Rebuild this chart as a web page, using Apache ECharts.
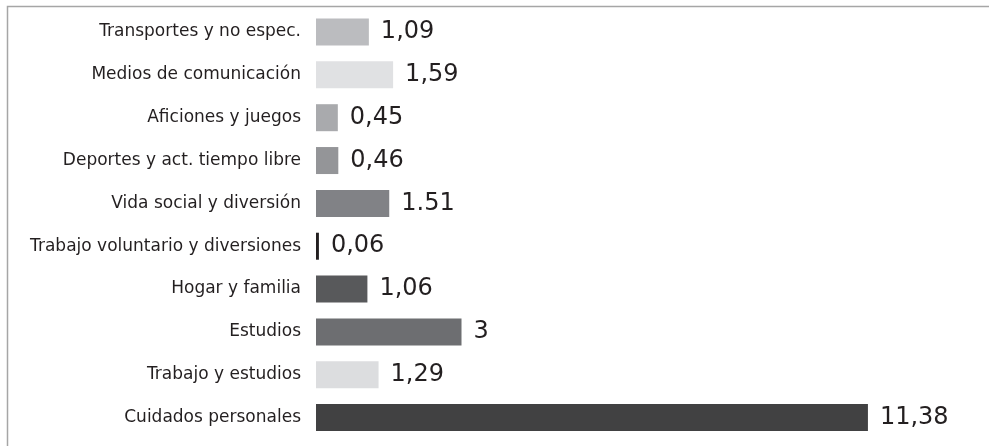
<!DOCTYPE html>
<html>
<head>
<meta charset="utf-8">
<style>
  html, body { margin: 0; padding: 0; background: #ffffff; }
  #chart { width: 989px; height: 446px; }
</style>
<script src="https://cdn.jsdelivr.net/npm/echarts@6/dist/echarts.min.js"></script>
</head>
<body>
<div id="chart"></div>
<script>
// Activity categories, listed top to bottom
const categories = [
  'Transportes y no espec.',
  'Medios de comunicación',
  'Aficiones y juegos',
  'Deportes y act. tiempo libre',
  'Vida social y diversión',
  'Trabajo voluntario y diversiones',
  'Hogar y familia',
  'Estudios',
  'Trabajo y estudios',
  'Cuidados personales'
];

// Hours per activity
const values = [1.09, 1.59, 0.45, 0.46, 1.51, 0.06, 1.06, 3, 1.29, 11.38];

// Value labels as printed next to each bar
const valueLabels = ['1,09', '1,59', '0,45', '0,46', '1.51', '0,06', '1,06', '3', '1,29', '11,38'];

// Fill colour of each bar
const barColors = [
  '#bbbcbf', '#e0e1e3', '#a9aaad', '#949598', '#818286',
  '#231f20', '#58595b', '#6d6e71', '#dcdddf', '#414142'
];

const chart = echarts.init(document.getElementById('chart'), null, { renderer: 'canvas' });

chart.setOption({
  animation: false,
  backgroundColor: '#ffffff',
  grid: { left: 316, right: 91, top: 10.6, bottom: 7, containLabel: false },
  xAxis: {
    type: 'value',
    min: 0,
    max: 12,
    show: false
  },
  yAxis: {
    type: 'category',
    data: categories,
    inverse: true,
    axisLine: { show: false },
    axisTick: { show: false },
    splitLine: { show: false },
    axisLabel: {
      margin: 15,
      color: '#231f20',
      fontFamily: 'DejaVu Sans',
      fontSize: 17
    }
  },
  series: [{
    type: 'bar',
    barWidth: 27,
    data: values.map((v, i) => ({
      value: v,
      itemStyle: { color: barColors[i] }
    })),
    label: {
      show: true,
      position: 'right',
      distance: 12,
      color: '#231f20',
      fontFamily: 'DejaVu Sans',
      fontSize: 24,
      formatter: p => valueLabels[p.dataIndex]
    }
  }],
  graphic: [{
    type: 'rect',
    silent: true,
    shape: { x: 7.5, y: 6.5, width: 1200, height: 800 },
    style: { fill: 'none', stroke: '#a6a6a6', lineWidth: 1.5 }
  }]
});
</script>
</body>
</html>
